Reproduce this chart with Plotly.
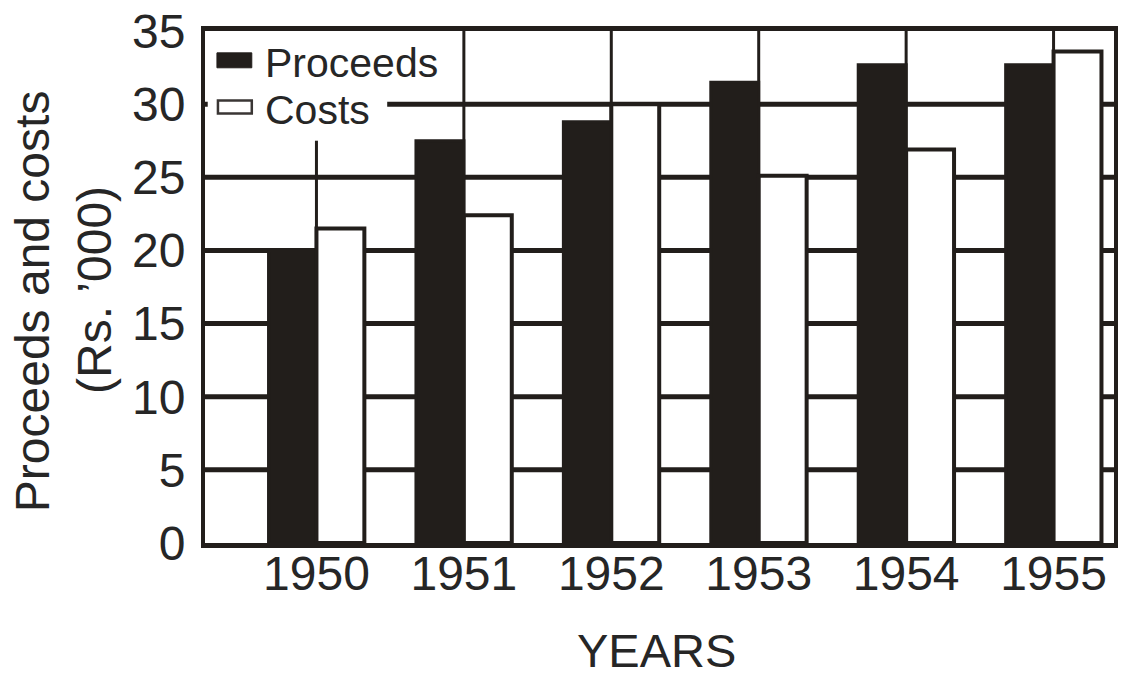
import plotly.graph_objects as go

# Proceeds and costs per year, in thousands of rupees
years = [1950, 1951, 1952, 1953, 1954, 1955]
proceeds = [20.0, 27.5, 28.8, 31.5, 32.7, 32.7]
costs = [21.5, 22.4, 30.0, 25.1, 26.9, 33.6]
y_ticks = [0, 5, 10, 15, 20, 25, 30, 35]

INK = "#221e1b"
TEXT = "#262626"
FONT = "Liberation Sans, Arial, Helvetica, sans-serif"

fig = go.Figure()
fig.add_trace(go.Bar(
    x=years, y=proceeds, name="Proceeds",
    marker=dict(color=INK, line=dict(color=INK, width=3)),
    showlegend=False,
))
fig.add_trace(go.Bar(
    x=years, y=costs, name="Costs",
    marker=dict(color="white", line=dict(color=INK, width=4)),
    showlegend=False,
))

# plot-area pixel helpers for the legend block and titles
W, H = 913.0, 515.0
def px(xp):
    return (xp - 205) / W
def py(yp):
    return (543 - yp) / H

# heavy horizontal rules every 5 units, behind everything else
for v in y_ticks[1:-1]:
    fig.add_shape(type="line", xref="paper", yref="y", x0=0, x1=1, y0=v, y1=v,
                  line=dict(color=INK, width=5), layer="below")

# white patch under the legend entries, covering the rules there
fig.add_shape(type="rect", xref="paper", yref="paper",
              x0=0.003, x1=px(388), y0=py(125), y1=0.996,
              fillcolor="white", line=dict(width=0), layer="below")

# thin vertical rules through each year group (hidden behind the bars)
for yr in years[1:]:
    fig.add_shape(type="line", x0=yr, x1=yr, y0=0, y1=35, xref="x", yref="y",
                  line=dict(color=INK, width=3), layer="below")
fig.add_shape(type="line", x0=years[0], x1=years[0], y0=17, y1=27.5, xref="x", yref="y",
              line=dict(color=INK, width=3), layer="below")

# legend swatches and labels
fig.add_shape(type="rect", xref="paper", yref="paper",
              x0=px(217), x1=px(252), y0=py(65), y1=py(50),
              fillcolor=INK, line=dict(color=INK, width=1), layer="above")
fig.add_shape(type="rect", xref="paper", yref="paper",
              x0=px(218), x1=px(252), y0=py(111), y1=py(98),
              fillcolor="white", line=dict(color="#3a3634", width=2.5), layer="above")
fig.add_annotation(x=px(264), y=py(60), xref="paper", yref="paper",
                   text="Proceeds", showarrow=False, xanchor="left", yanchor="middle",
                   borderpad=0, font=dict(family=FONT, size=41, color=TEXT))
fig.add_annotation(x=px(264), y=py(107), xref="paper", yref="paper",
                   text="Costs", showarrow=False, xanchor="left", yanchor="middle",
                   borderpad=0, font=dict(family=FONT, size=41, color=TEXT))

# axis titles
fig.add_annotation(x=px(32), y=py(300), xref="paper", yref="paper",
                   text="Proceeds and costs", textangle=-90, showarrow=False,
                   xanchor="center", yanchor="middle",
                   font=dict(family=FONT, size=48, color=TEXT))
fig.add_annotation(x=px(94), y=py(288), xref="paper", yref="paper",
                   text="(Rs. \u2019000)", textangle=-90, showarrow=False,
                   xanchor="center", yanchor="middle",
                   font=dict(family=FONT, size=48, color=TEXT))
fig.add_annotation(x=px(658), y=py(651), xref="paper", yref="paper",
                   text="YEARS", showarrow=False, borderpad=0,
                   xanchor="center", yanchor="middle",
                   font=dict(family=FONT, size=47, color=TEXT))

fig.update_layout(
    width=1123, height=679,
    margin=dict(l=205, r=5, t=28, b=136),
    paper_bgcolor="white", plot_bgcolor="white",
    barmode="group", bargap=0.35, bargroupgap=0,
    font=dict(family=FONT, size=48, color=TEXT),
    xaxis=dict(
        range=[1949.244, 1955.41], tickvals=years, ticktext=[str(y) for y in years],
        showgrid=False, zeroline=False, showline=True, linecolor=INK, linewidth=5,
        mirror=True, ticks="", tickfont=dict(size=48, color=TEXT),
        ticklabelstandoff=-16,
    ),
    yaxis=dict(
        range=[0, 35], tickvals=y_ticks, showgrid=False,
        zeroline=False, showline=True, linecolor=INK, linewidth=4, mirror=True,
        ticks="", tickfont=dict(size=48, color=TEXT), ticklabelstandoff=6,
    ),
)

fig.write_html("out.html")
